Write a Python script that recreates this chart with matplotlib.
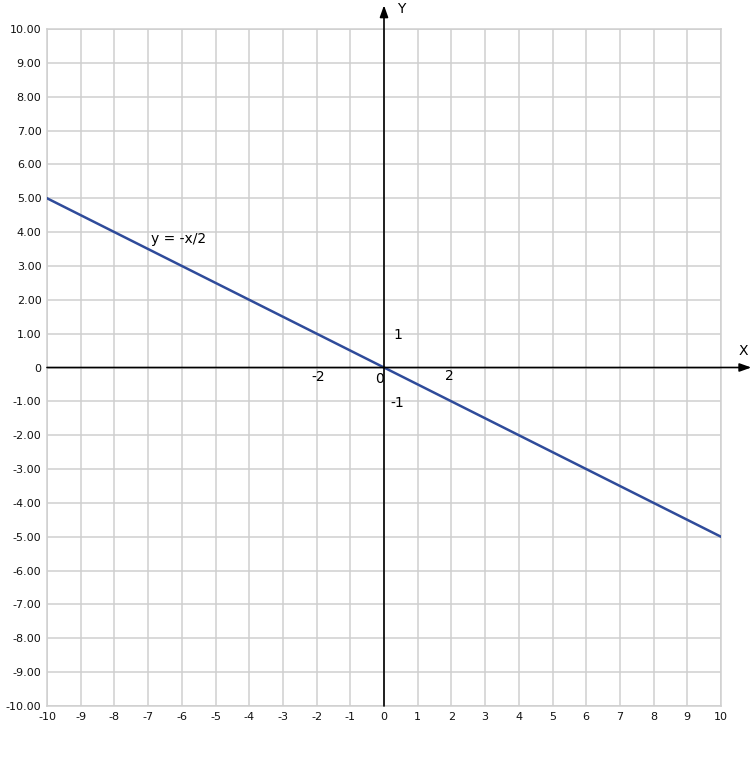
import matplotlib
matplotlib.use("Agg")
import matplotlib.pyplot as plt
import numpy as np

x_vals = [-10, 10]
y_vals = [5, -5]
x_ticks = list(range(-10, 11))
y_ticks = list(range(-10, 11))

fig = plt.figure(figsize=(7.56, 7.58), dpi=100)
W, H = 756, 758
left, right, top, bottom = 47, 721, 29, 706
ax = fig.add_axes([left / W, 1 - bottom / H, (right - left) / W, (bottom - top) / H])
ax.set_xlim(-10, 10)
ax.set_ylim(-10, 10)
ax.set_xticks(x_ticks)
ax.set_yticks(y_ticks)
ax.set_xticklabels([str(t) for t in x_ticks])
ax.set_yticklabels(["0" if t == 0 else f"{t:.2f}" for t in y_ticks])
ax.tick_params(length=0, labelsize=8, pad=4, colors="#111111")
ax.grid(True, color="#cfcfcf", linewidth=1.1)
ax.set_axisbelow(True)
for s in ax.spines.values():
    s.set_color("#cfcfcf")
    s.set_linewidth(1.1)

ax.plot(x_vals, y_vals, color="#2f4b9a", linewidth=1.8, zorder=3)

# axes with arrows
ax.annotate("", xy=(10.9, 0), xytext=(-10, 0), xycoords="data",
            arrowprops=dict(arrowstyle="-|>,head_length=0.7,head_width=0.25", color="black", lw=1.2,
                            shrinkA=0, shrinkB=0), annotation_clip=False, zorder=4)
ax.annotate("", xy=(0, 10.7), xytext=(0, -10), xycoords="data",
            arrowprops=dict(arrowstyle="-|>,head_length=0.7,head_width=0.25", color="black", lw=1.2,
                            shrinkA=0, shrinkB=0), annotation_clip=False, zorder=4)

fs = 10
ax.text(10.65, 0.5, "X", fontsize=fs, ha="center", va="center")
ax.text(0.5, 10.6, "Y", fontsize=fs, ha="center", va="center", clip_on=False)
ax.text(0.4, 0.95, "1", fontsize=fs, ha="center", va="center")
ax.text(0.38, -1.05, "-1", fontsize=fs, ha="center", va="center")
ax.text(-1.95, -0.27, "-2", fontsize=fs, ha="center", va="center")
ax.text(-0.12, -0.33, "0", fontsize=fs, ha="center", va="center")
ax.text(1.95, -0.25, "2", fontsize=fs, ha="center", va="center")
ax.text(-6.1, 3.8, "y = -x/2", fontsize=fs, ha="center", va="center")

fig.savefig("out.png", dpi=100)
